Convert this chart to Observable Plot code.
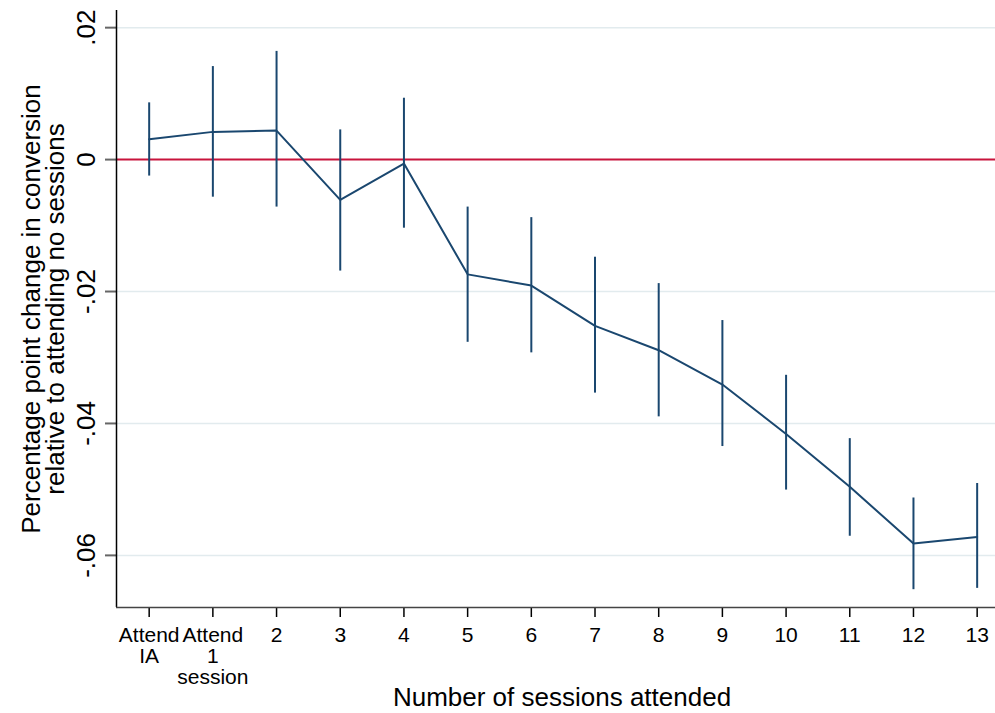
<!DOCTYPE html>
<html>
<head>
<meta charset="utf-8">
<script src="https://cdn.jsdelivr.net/npm/d3@7"></script>
<script src="https://cdn.jsdelivr.net/npm/@observablehq/plot@0.6"></script>
<style>
  html, body { margin: 0; padding: 0; background: #fff; }
  #chart svg { display: block; }
</style>
</head>
<body>
<div id="chart"></div>
<script>
// Categories (x tick labels)
const labels = ["Attend\nIA", "Attend\n1\nsession", "2", "3", "4", "5", "6", "7", "8", "9", "10", "11", "12", "13"];
// Point estimates
const estimates = [0.0031, 0.0042, 0.0044, -0.0061, -0.0006, -0.0174, -0.0191, -0.0252, -0.0289, -0.0341, -0.0416, -0.0496, -0.0582, -0.0572];
// Confidence interval bounds
const lower = [-0.0025, -0.0057, -0.0072, -0.0169, -0.0104, -0.0277, -0.0293, -0.0354, -0.0390, -0.0435, -0.0501, -0.0571, -0.0652, -0.0650];
const upper = [0.0086, 0.0141, 0.0164, 0.0045, 0.0093, -0.0072, -0.0088, -0.0148, -0.0188, -0.0244, -0.0327, -0.0423, -0.0513, -0.0491];
// Y axis ticks
const yTicks = [0.02, 0, -0.02, -0.04, -0.06];
const yTickLabels = [".02", "0", "-.02", "-.04", "-.06"];
// Titles
const xTitle = "Number of sessions attended";
const yTitle = "Percentage point change in conversion\nrelative to attending no sessions";

const xDomain = [-0.513, 13.288];
const yDomain = [-0.0679, 0.0226];
const navy = "#1a476f";
const red = "#c8143c";

const data = labels.map((l, i) => ({i, est: estimates[i], lo: lower[i], hi: upper[i]}));

const chart = Plot.plot({
  width: 995,
  height: 713,
  marginLeft: 116,
  marginRight: 0,
  marginTop: 10,
  marginBottom: 106,
  x: {domain: xDomain},
  y: {domain: yDomain},
  style: {fontFamily: "'Liberation Sans', Arial, sans-serif", background: "white", color: "black"},
  marks: [
    Plot.gridY(yTicks.filter(d => d !== 0), {stroke: "#e2ebee", strokeOpacity: 1, strokeWidth: 1.5}),
    Plot.ruleY([0], {stroke: red, strokeWidth: 2}),
    Plot.axisY({
      ticks: yTicks,
      tickFormat: d => yTickLabels[yTicks.indexOf(d)],
      tickRotate: -90,
      fontSize: 26,
      tickSize: 11,
      tickPadding: 11,
      stroke: "#666",
      strokeWidth: 2,
      fill: "black",
      label: null
    }),
    Plot.axisX({
      ticks: d3.range(labels.length),
      tickFormat: i => labels[i],
      fontSize: 21,
      tickSize: 10,
      tickPadding: 10,
      stroke: "black",
      strokeWidth: 1.5,
      fill: "black",
      label: null
    }),
    Plot.ruleX([xDomain[0]], {y1: yDomain[0], y2: yDomain[1], stroke: "black", strokeWidth: 1.5}),
    Plot.ruleY([yDomain[0]], {x1: xDomain[0], x2: xDomain[1], stroke: "#444", strokeWidth: 1.5}),
    Plot.ruleX(data, {x: "i", y1: "lo", y2: "hi", stroke: navy, strokeWidth: 2}),
    Plot.line(data, {x: "i", y: "est", stroke: navy, strokeWidth: 2}),
    Plot.text([xTitle], {text: d => d, frameAnchor: "bottom", dy: 98, dx: 6, textAnchor: "middle", lineAnchor: "bottom", fontSize: 26, fill: "black"}),
    Plot.text([yTitle], {text: d => d, frameAnchor: "left", rotate: -90, dx: -72, textAnchor: "middle", lineAnchor: "middle", fontSize: 26, lineHeight: 0.92, fill: "black"})
  ]
});

document.getElementById("chart").appendChild(chart);
</script>
</body>
</html>
